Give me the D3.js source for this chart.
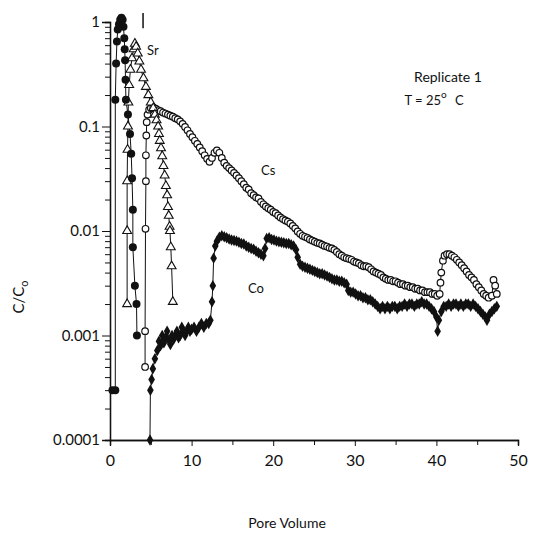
<!DOCTYPE html>
<html>
<head>
<meta charset="utf-8">
<script src="https://cdn.jsdelivr.net/npm/d3@7"></script>
<style>
  body { margin: 0; background: #fff; }
  text { font-family: Lato, "DejaVu Sans", sans-serif; fill: #111; }
</style>
</head>
<body>
<div id="chart"></div>
<script>
// readings taken off the plot: [pore volume, C/Co]
const tracer = [[0.3,0.0003],[0.65,0.0003],[0.65,0.18],[0.75,0.4],[0.85,0.65],[0.95,0.85],[1.1,0.95],[1.25,1.05],[1.4,1.1],[1.55,1.05],[1.65,0.9],[1.75,0.7],[1.8,0.55],[1.85,0.43],[1.9,0.28],[1.95,0.18],[2.2,0.13],[2.45,0.085],[2.6,0.055],[2.7,0.032],[2.8,0.016],[2.8,0.007],[3.05,0.003],[3.25,0.002],[3.3,0.001]]

const sr = [[2.1,0.002],[2.1,0.01],[2.1,0.03],[2.15,0.06],[2.2,0.1],[2.25,0.17],[2.35,0.25],[2.5,0.35],[2.7,0.45],[2.9,0.55],[3.05,0.62],[3.2,0.58],[3.4,0.5],[3.6,0.42],[3.8,0.35],[4.1,0.29],[4.4,0.24],[4.7,0.2],[5.0,0.17],[5.3,0.15],[5.5,0.13],[5.7,0.115],[5.9,0.1],[6.0,0.085],[6.1,0.073],[6.25,0.062],[6.4,0.052],[6.55,0.042],[6.7,0.034],[6.85,0.027],[7.0,0.022],[7.1,0.017],[7.2,0.014],[7.3,0.011],[7.35,0.01],[7.45,0.007],[7.55,0.0046],[7.7,0.0021]]

const cs = [[4.3,0.0005],[4.3,0.0011],[4.35,0.0105],[4.4,0.03],[4.4,0.053],[4.45,0.082],[4.5,0.11],[4.6,0.13],[4.8,0.145],[5.0,0.15],[5.3,0.152],[5.6,0.148],[5.9,0.143],[6.2,0.14],[6.5,0.136],[6.8,0.133],[7.1,0.13],[7.4,0.127],[7.7,0.124],[8.0,0.12],[8.3,0.117],[8.6,0.112],[8.9,0.106],[9.2,0.099],[9.5,0.092],[9.8,0.085],[10.1,0.079],[10.4,0.073],[10.7,0.068],[11.0,0.063],[11.3,0.058],[11.6,0.053],[11.9,0.049],[12.2,0.046],[12.5,0.05],[12.8,0.056],[13.1,0.059],[13.4,0.056],[13.7,0.05],[14.0,0.045],[14.3,0.042],[14.6,0.04],[14.9,0.038],[15.2,0.036],[15.5,0.034],[15.8,0.032],[16.1,0.03],[16.4,0.028],[16.7,0.026],[17.0,0.025],[17.3,0.023],[17.6,0.022],[17.9,0.021],[18.2,0.0205],[18.5,0.019],[18.8,0.018],[19.1,0.0172],[19.4,0.0165],[19.7,0.016],[20.0,0.0152],[20.3,0.0148],[20.6,0.0141],[20.9,0.0135],[21.2,0.013],[21.5,0.0126],[21.8,0.0123],[22.1,0.0118],[22.4,0.0112],[22.7,0.0106],[23.0,0.0099],[23.3,0.0094],[23.6,0.009],[23.9,0.0088],[24.2,0.0086],[24.5,0.0083],[24.8,0.0081],[25.1,0.0079],[25.4,0.0077],[25.7,0.0076],[26.0,0.0074],[26.3,0.0072],[26.6,0.0071],[26.9,0.0069],[27.2,0.0068],[27.5,0.0066],[27.8,0.0063],[28.1,0.006],[28.4,0.0058],[28.7,0.0056],[29.0,0.0055],[29.3,0.0054],[29.6,0.0053],[29.9,0.0051],[30.2,0.005],[30.5,0.0049],[30.8,0.0047],[31.1,0.0046],[31.4,0.0046],[31.7,0.0045],[32.0,0.0043],[32.3,0.0041],[32.6,0.004],[32.9,0.0039],[33.2,0.0038],[33.5,0.0036],[33.8,0.0035],[34.1,0.0034],[34.4,0.0034],[34.7,0.0033],[35.0,0.0033],[35.3,0.0032],[35.6,0.0031],[35.9,0.0031],[36.2,0.003],[36.5,0.003],[36.8,0.0029],[37.1,0.0029],[37.4,0.0028],[37.7,0.0028],[38.0,0.0027],[38.3,0.0027],[38.6,0.0026],[38.9,0.0026],[39.2,0.0026],[39.5,0.0025],[39.8,0.0025],[40.1,0.0024],[40.4,0.0025],[40.5,0.0032],[40.6,0.004],[40.8,0.0052],[41.0,0.0058],[41.3,0.006],[41.6,0.006],[41.9,0.0058],[42.2,0.0056],[42.5,0.0053],[42.8,0.005],[43.1,0.0047],[43.4,0.0044],[43.7,0.0041],[44.0,0.0038],[44.3,0.0036],[44.6,0.0034],[44.9,0.0031],[45.2,0.0029],[45.5,0.0027],[45.8,0.0025],[46.1,0.0024],[46.4,0.0023],[46.8,0.0024],[47.0,0.0034],[47.2,0.003],[47.4,0.0025]]

const co = [[4.9,0.0001],[4.95,0.0003],[5.1,0.00038],[5.25,0.00048],[5.5,0.0006],[5.8,0.00072],[6.0,0.00088],[6.2,0.0008],[6.4,0.001],[6.6,0.00085],[6.8,0.00095],[7.0,0.0011],[7.2,0.0009],[7.4,0.00082],[7.6,0.001],[7.8,0.00092],[8.0,0.001],[8.2,0.0011],[8.4,0.00095],[8.6,0.001],[8.8,0.0012],[9.0,0.0011],[9.2,0.001],[9.4,0.0011],[9.6,0.0012],[9.8,0.0011],[10.0,0.00115],[10.3,0.0012],[10.6,0.0011],[10.9,0.0012],[11.2,0.0013],[11.5,0.0012],[11.8,0.0013],[12.1,0.0013],[12.3,0.0014],[12.5,0.0021],[12.6,0.003],[12.7,0.0055],[12.9,0.0072],[13.1,0.008],[13.4,0.0087],[13.7,0.009],[14.0,0.0088],[14.3,0.0086],[14.6,0.0084],[14.9,0.0082],[15.2,0.0081],[15.5,0.008],[15.8,0.0078],[16.1,0.0076],[16.4,0.0075],[16.7,0.0072],[17.0,0.007],[17.3,0.0068],[17.6,0.0067],[17.9,0.0064],[18.2,0.0062],[18.5,0.006],[18.8,0.0058],[19.0,0.0068],[19.2,0.0085],[19.5,0.0086],[19.8,0.0083],[20.1,0.0082],[20.4,0.008],[20.7,0.0079],[21.0,0.0078],[21.3,0.0077],[21.6,0.0076],[21.9,0.0076],[22.2,0.0074],[22.5,0.0072],[22.8,0.0066],[23.0,0.0056],[23.3,0.0048],[23.6,0.0046],[23.9,0.0045],[24.2,0.0044],[24.5,0.0043],[24.8,0.0042],[25.1,0.0041],[25.4,0.004],[25.7,0.0039],[26.0,0.0039],[26.3,0.0038],[26.6,0.0037],[26.9,0.0036],[27.2,0.0035],[27.5,0.0034],[27.8,0.0034],[28.1,0.0033],[28.4,0.0033],[28.7,0.0032],[29.0,0.0031],[29.2,0.0027],[29.5,0.0026],[29.8,0.0026],[30.1,0.0025],[30.4,0.0024],[30.7,0.0024],[31.0,0.0023],[31.3,0.0023],[31.6,0.0022],[31.9,0.0022],[32.2,0.0021],[32.5,0.002],[32.8,0.0019],[33.1,0.0018],[33.4,0.0019],[33.7,0.0018],[34.0,0.0019],[34.3,0.0018],[34.6,0.0019],[34.9,0.0019],[35.2,0.0018],[35.5,0.0019],[35.8,0.0019],[36.1,0.002],[36.4,0.0019],[36.7,0.002],[37.0,0.002],[37.3,0.0019],[37.6,0.002],[37.9,0.002],[38.2,0.0021],[38.5,0.002],[38.8,0.002],[39.1,0.0019],[39.4,0.0018],[39.7,0.0017],[40.0,0.0015],[40.15,0.0011],[40.3,0.0014],[40.6,0.0017],[40.9,0.0019],[41.2,0.0019],[41.5,0.002],[41.8,0.0019],[42.1,0.002],[42.4,0.002],[42.7,0.0019],[43.0,0.002],[43.3,0.0019],[43.6,0.002],[43.9,0.002],[44.2,0.0019],[44.5,0.002],[44.8,0.0019],[45.1,0.0018],[45.4,0.0017],[45.7,0.0016],[46.0,0.0015],[46.2,0.0014],[46.5,0.0016],[46.8,0.0017],[47.1,0.0018],[47.4,0.0019]]

const errBars = [[4.05, 0.87, 1.22]] // lone bar near the top
const xTicks = [0, 10, 20, 30, 40, 50]
const xMinor = [5, 15, 25, 35, 45]
const yTicks = [0.0001, 0.001, 0.01, 0.1, 1]
const yLabels = ["0.0001", "0.001", "0.01", "0.1", "1"]

const width = 533, height = 538
const svg = d3.select("#chart").append("svg")
  .attr("width", width).attr("height", height)

const x = d3.scaleLinear().domain([0, 50]).range([110, 518])
const y = d3.scaleLog().domain([0.0001, 1]).range([440, 22])

// axes
let minorY = []
yTicks.slice(0, -1).forEach(d => { for (let k = 2; k < 10; k++) minorY.push(d * k) })

svg.append("g").attr("transform", "translate(0,440)")
  .call(d3.axisBottom(x).tickValues(xMinor).tickSize(5).tickFormat(""))
svg.append("g").attr("transform", "translate(0,440)")
  .call(d3.axisBottom(x).tickValues(xTicks).tickSize(6).tickPadding(9))
  .attr("font-size", 16)
svg.append("g").attr("transform", "translate(110,0)")
  .call(d3.axisLeft(y).tickValues(minorY).tickSize(5).tickFormat(""))
svg.append("g").attr("transform", "translate(110,0)")
  .call(d3.axisLeft(y).tickValues(yTicks).tickSize(8).tickPadding(2)
    .tickFormat((d, i) => yLabels[i]))
  .attr("font-size", 15)
svg.selectAll(".domain").attr("stroke", "#111").attr("stroke-width", 1.3)
svg.selectAll(".tick line").attr("stroke", "#111")
svg.selectAll(".tick text").style("font-family", "Lato, 'DejaVu Sans', sans-serif").attr("fill", "#111")

const line = d3.line().x(d => x(d[0])).y(d => y(d[1]))
const series = [tracer, sr, cs, co]
series.forEach(s => {
  svg.append("path").datum(s).attr("d", line)
    .attr("fill", "none").attr("stroke", "#111").attr("stroke-width", 1)
})

svg.selectAll(".err").data(errBars).enter().append("line")
  .attr("x1", d => x(d[0])).attr("x2", d => x(d[0]))
  .attr("y1", d => y(d[1])).attr("y2", d => y(d[2]))
  .attr("stroke", "#111").attr("stroke-width", 1.5)

// markers
svg.append("g").selectAll("path").data(co).enter().append("path")
  .attr("d", d3.symbol().type(d3.symbolDiamond).size(38))
  .attr("transform", d => `translate(${x(d[0])},${y(d[1])})`)
  .attr("fill", "#111")

svg.append("g").selectAll("circle").data(cs).enter().append("circle")
  .attr("cx", d => x(d[0])).attr("cy", d => y(d[1])).attr("r", 3.3)
  .attr("fill", "#fff").attr("stroke", "#111").attr("stroke-width", 1.2)

svg.append("g").selectAll("path").data(sr).enter().append("path")
  .attr("d", d3.symbol().type(d3.symbolTriangle).size(34))
  .attr("transform", d => `translate(${x(d[0])},${y(d[1])})`)
  .attr("fill", "#fff").attr("stroke", "#111").attr("stroke-width", 1.1)

svg.append("g").selectAll("circle").data(tracer).enter().append("circle")
  .attr("cx", d => x(d[0])).attr("cy", d => y(d[1])).attr("r", 4)
  .attr("fill", "#111")

// labels
const lab = (t, px, py, size, anchor) => svg.append("text")
  .attr("x", px).attr("y", py).attr("font-size", size)
  .attr("text-anchor", anchor || "start").text(t)
lab("Sr", 147, 55, 13)
lab("Cs", 261, 175, 13)
lab("Co", 248, 293, 13)
lab("Replicate 1", 448, 82, 14, "middle")
lab("T = 25", 441, 105, 13, "end")
svg.append("text").attr("x", 441).attr("y", 98).attr("font-size", 10).text("o")
lab("C", 455, 105, 13)

lab("Pore Volume", 287, 528, 14, "middle")
const yl = svg.append("text").attr("transform", "translate(24,297) rotate(-90)")
  .attr("text-anchor", "middle").attr("font-size", 15)
yl.append("tspan").text("C/C")
yl.append("tspan").attr("font-size", 11).attr("dy", 4).text("o")
</script>
</body>
</html>
